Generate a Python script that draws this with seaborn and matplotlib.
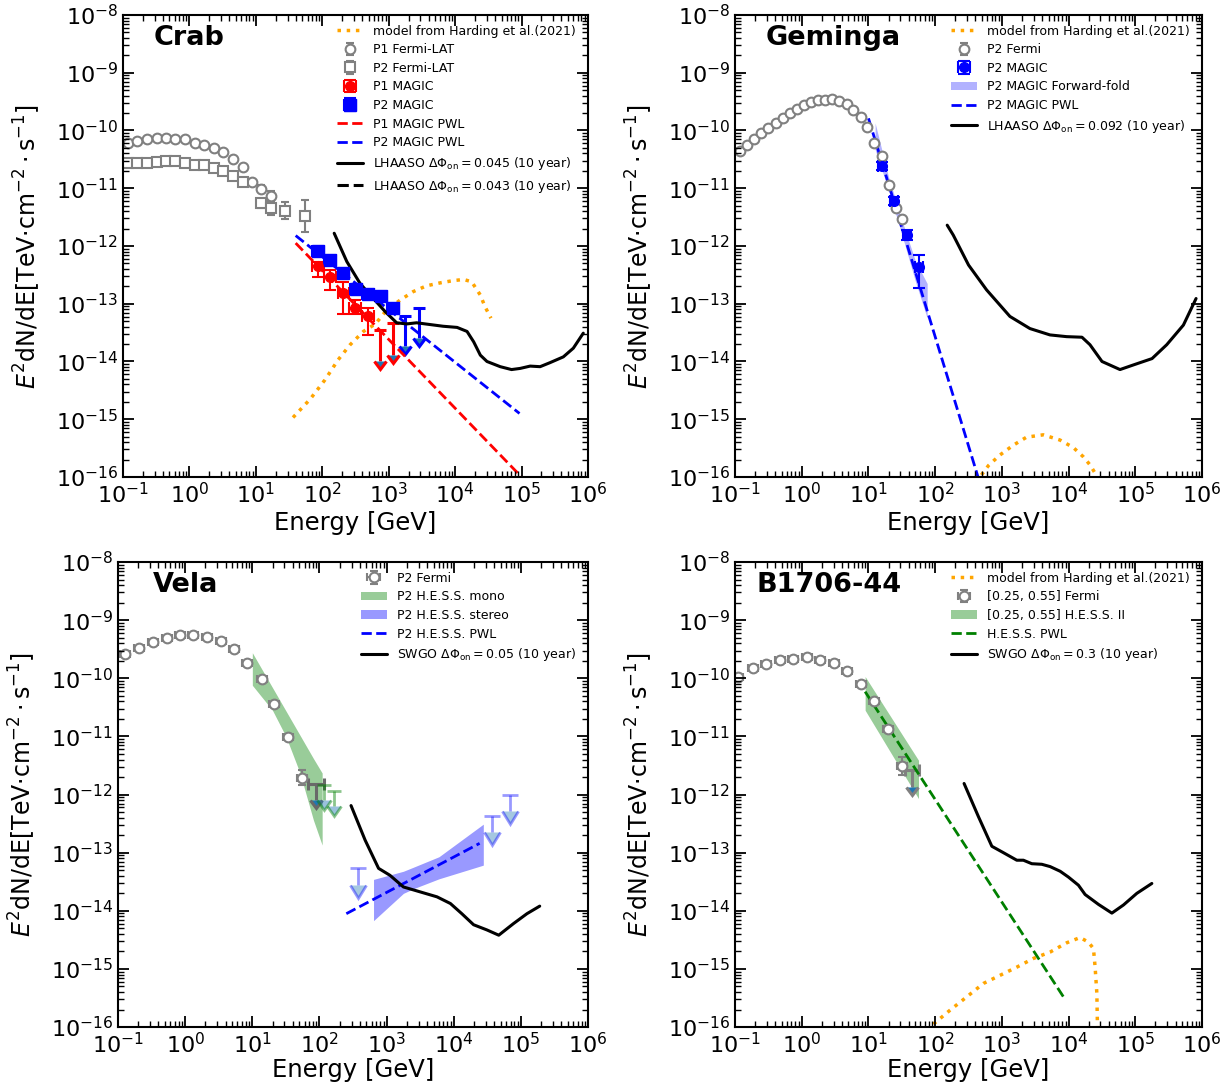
import numpy as np
import matplotlib
matplotlib.use("Agg")
import matplotlib.pyplot as plt
import seaborn as sns
from matplotlib.ticker import LogLocator
from matplotlib.lines import Line2D

# values: log10(E / GeV) and log10(E^2 dN/dE / TeV cm^-2 s^-1)

# ---- Crab ----
crab_p1_fermi_logE = [-0.92, -0.785, -0.634, -0.49, -0.35, -0.21, -0.06, 0.08, 0.22, 0.37, 0.51, 0.65, 0.80, 0.94, 1.08, 1.23]
crab_p1_fermi_logF = [-10.21, -10.18, -10.14, -10.125, -10.13, -10.14, -10.14, -10.21, -10.25, -10.30, -10.38, -10.49, -10.63, -10.90, -11.01, -11.13]
crab_p1_fermi_err = [0.01, 0.01, 0.01, 0.01, 0.01, 0.01, 0.01, 0.01, 0.01, 0.01, 0.02, 0.02, 0.03, 0.05, 0.06, 0.08]
crab_p2_fermi_logE = [-0.92, -0.785, -0.634, -0.49, -0.35, -0.21, -0.06, 0.08, 0.22, 0.37, 0.51, 0.65, 0.80, 1.08, 1.23, 1.44, 1.74]
crab_p2_fermi_logF = [-10.57, -10.57, -10.56, -10.55, -10.53, -10.53, -10.57, -10.60, -10.60, -10.65, -10.70, -10.78, -10.90, -11.26, -11.35, -11.39, -11.48]
crab_p2_fermi_err = [0.01, 0.01, 0.01, 0.01, 0.01, 0.01, 0.01, 0.01, 0.01, 0.02, 0.02, 0.03, 0.04, 0.08, 0.12, 0.15, 0.28]

crab_p1_magic_logE = [1.93, 2.12, 2.32, 2.50, 2.69]
crab_p1_magic_logF = [-12.34, -12.53, -12.82, -13.07, -13.22]
crab_p1_magic_lo = [0.20, 0.24, 0.35, 0.10, 0.32]
crab_p1_magic_hi = [0.07, 0.11, 0.20, 0.14, 0.14]
crab_p1_ul_logE = [2.87, 3.06]
crab_p1_ul_logF = [-13.45, -13.34]
crab_p2_magic_logE = [1.93, 2.12, 2.32, 2.51, 2.69, 2.88, 3.07]
crab_p2_magic_logF = [-12.09, -12.24, -12.46, -12.75, -12.84, -12.87, -13.08]
crab_p2_magic_err = [0.04, 0.04, 0.04, 0.04, 0.04, 0.05, 0.07]
crab_p2_ul_logE = [3.24, 3.46]
crab_p2_ul_logF = [-13.22, -13.08]

crab_p1_pwl_logE = [1.6, 5.0]
crab_p1_pwl_logF = [-11.95, -16.0]
crab_p2_pwl_logE = [1.6, 4.97]
crab_p2_pwl_logF = [-11.82, -14.90]

crab_lhaaso_logE = [2.18, 2.37, 2.57, 2.77, 2.95, 3.12, 3.27, 3.42, 3.62, 3.82, 4.03, 4.18, 4.28, 4.38, 4.48, 4.68, 4.85, 4.98, 5.13, 5.28, 5.43, 5.63, 5.78, 5.93]
crab_lhaaso_logF = [-11.78, -12.27, -12.65, -12.91, -13.14, -13.33, -13.35, -13.33, -13.36, -13.39, -13.41, -13.48, -13.66, -13.89, -14.00, -14.09, -14.14, -14.12, -14.08, -14.09, -14.02, -13.92, -13.77, -13.51]

crab_model_logE = [1.56, 1.82, 2.04, 2.24, 2.42, 2.62, 2.80, 2.97, 3.17, 3.37, 3.57, 3.77, 3.97, 4.13, 4.25, 4.38, 4.45, 4.54]
crab_model_logF = [-14.97, -14.65, -14.32, -13.97, -13.71, -13.48, -13.35, -13.11, -12.94, -12.79, -12.69, -12.64, -12.60, -12.58, -12.62, -12.85, -13.05, -13.25]

# ---- Geminga ----
gem_fermi_logE = [-0.925, -0.825, -0.715, -0.61, -0.50, -0.39, -0.285, -0.175, -0.075, 0.035, 0.14, 0.25, 0.35, 0.46, 0.565, 0.675, 0.775, 0.885, 0.985, 1.09, 1.20, 1.31, 1.41, 1.51]
gem_fermi_logF = [-10.35, -10.25, -10.15, -10.05, -9.96, -9.875, -9.79, -9.70, -9.63, -9.56, -9.51, -9.48, -9.47, -9.46, -9.49, -9.55, -9.645, -9.76, -9.945, -10.22, -10.45, -10.94, -11.35, -11.54]
gem_magic_logE = [1.20, 1.385, 1.575, 1.76]
gem_magic_logF = [-10.61, -11.22, -11.81, -12.36]
gem_magic_lo = [0.07, 0.07, 0.09, 0.37]
gem_magic_hi = [0.07, 0.07, 0.08, 0.20]
gem_ff_logE = [1.10, 1.30, 1.50, 1.70, 1.88]
gem_ff_lo = [-10.33, -11.03, -11.80, -12.60, -13.25]
gem_ff_hi = [-9.87, -10.80, -11.55, -12.25, -12.65]
gem_pwl_logE = [1.0, 2.7]
gem_pwl_logF = [-9.79, -16.22]
gem_lhaaso_logE = [2.18, 2.27, 2.50, 2.77, 3.12, 3.42, 3.72, 3.97, 4.20, 4.32, 4.50, 4.77, 4.97, 5.25, 5.47, 5.72, 5.91]
gem_lhaaso_logF = [-11.64, -11.81, -12.33, -12.76, -13.22, -13.43, -13.54, -13.57, -13.58, -13.71, -14.00, -14.14, -14.06, -13.95, -13.71, -13.37, -12.91]
gem_model_logE = [2.62, 2.67, 2.80, 2.97, 3.17, 3.37, 3.62, 3.87, 4.07, 4.22, 4.32, 4.40, 4.45]
gem_model_logF = [-16.1, -16.0, -15.80, -15.62, -15.45, -15.31, -15.27, -15.36, -15.49, -15.65, -15.79, -15.94, -16.1]

# ---- Vela ----
vela_fermi_logE = [-0.896, -0.683, -0.483, -0.274, -0.076, 0.122, 0.331, 0.531, 0.729, 0.927, 1.142, 1.325, 1.538, 1.738]
vela_fermi_logF = [-9.59, -9.475, -9.37, -9.30, -9.26, -9.25, -9.29, -9.355, -9.50, -9.73, -10.02, -10.45, -11.01, -11.71]
vela_fermi_err = [0.03, 0.02, 0.02, 0.02, 0.02, 0.02, 0.02, 0.02, 0.02, 0.03, 0.03, 0.04, 0.05, 0.13]
vela_fermi_ul_logE = [1.95]
vela_fermi_ul_logF = [-11.82]
vela_mono_logE = [1.0, 1.3, 1.5, 1.71, 1.91, 2.04]
vela_mono_lo = [-10.12, -10.55, -11.0, -11.63, -12.44, -12.87]
vela_mono_hi = [-9.56, -10.16, -10.56, -10.98, -11.38, -11.63]
vela_mono_ul_logE = [2.07, 2.21]
vela_mono_ul_logF = [-11.84, -11.94]
vela_stereo_logE = [2.805, 3.25, 3.40, 3.78, 4.44]
vela_stereo_lo = [-14.17, -13.70, -13.62, -13.45, -13.215]
vela_stereo_hi = [-13.46, -13.32, -13.25, -13.07, -12.51]
vela_stereo_ul_logE = [2.58, 4.57, 4.84]
vela_stereo_ul_logF = [-13.27, -12.37, -12.01]
vela_pwl_logE = [2.40, 4.385]
vela_pwl_logF = [-14.05, -12.84]
vela_swgo_logE = [2.47, 2.68, 2.88, 3.05, 3.25, 3.50, 3.75, 3.95, 4.12, 4.295, 4.495, 4.67, 4.89, 5.09, 5.28]
vela_swgo_logF = [-12.19, -12.785, -13.27, -13.39, -13.59, -13.675, -13.76, -13.875, -14.05, -14.24, -14.33, -14.42, -14.22, -14.05, -13.92]

# ---- B1706-44 ----
b17_fermi_logE = [-0.95, -0.735, -0.535, -0.325, -0.126, 0.075, 0.274, 0.484, 0.684, 0.885, 1.089, 1.298, 1.508]
b17_fermi_logF = [-9.97, -9.83, -9.76, -9.69, -9.66, -9.64, -9.69, -9.74, -9.88, -10.105, -10.39, -10.88, -11.51]
b17_fermi_err = [0.02, 0.02, 0.02, 0.02, 0.02, 0.02, 0.02, 0.02, 0.03, 0.03, 0.04, 0.05, 0.15]
b17_fermi_ul_logE = [1.65]
b17_fermi_ul_logF = [-11.57]
b17_hess_logE = [0.95, 1.75]
b17_hess_lo = [-10.55, -12.07]
b17_hess_hi = [-9.97, -11.41]
b17_pwl_logE = [0.95, 3.95]
b17_pwl_logF = [-10.23, -15.53]
b17_swgo_logE = [2.433, 2.648, 2.849, 3.022, 3.223, 3.322, 3.448, 3.598, 3.723, 3.873, 3.997, 4.147, 4.247, 4.447, 4.648, 4.822, 5.022, 5.247]
b17_swgo_logF = [-11.81, -12.38, -12.89, -13.00, -13.13, -13.13, -13.19, -13.20, -13.24, -13.32, -13.42, -13.56, -13.72, -13.89, -14.04, -13.90, -13.70, -13.53]
b17_model_logE = [1.973, 2.223, 2.474, 2.723, 2.973, 3.223, 3.472, 3.723, 3.973, 4.172, 4.297, 4.372, 4.397, 4.423, 4.435]
b17_model_logF = [-15.95, -15.71, -15.48, -15.25, -15.11, -14.97, -14.82, -14.71, -14.55, -14.46, -14.54, -14.65, -14.97, -15.42, -16.2]


def p10(a):
    return np.power(10.0, np.asarray(a, dtype=float))


def line(ax, logE, logF, color, ls='-', lw=2.2, label=None):
    sns.lineplot(x=p10(logE), y=p10(logF), ax=ax, color=color, linestyle=ls, lw=lw,
                 sort=False, estimator=None, label=label, legend=False)


def points(ax, logE, logF, lo, hi, xerr=None, **kw):
    E, F = p10(logE), p10(logF)
    yerr = [F - F * p10(-np.asarray(lo)), F * p10(hi) - F]
    xe = None
    if xerr is not None:
        xe = [E - E * 10 ** (-xerr), E * 10 ** xerr - E]
    return ax.errorbar(E, F, yerr=yerr, xerr=xe, **kw)


def ulim(ax, logE, logF, drop, color, capsize=5, lw=2, alpha=1, xerr=None):
    E, F = p10(logE), p10(logF)
    xe = None
    if xerr is not None:
        xe = [E - E * 10 ** (-xerr), E * 10 ** xerr - E]
    return ax.errorbar(E, F, yerr=F - F * 10 ** (-drop), xerr=xe, uplims=True, fmt='none',
                       ecolor=color, elinewidth=lw, capsize=capsize, capthick=lw, alpha=alpha)


fermi_kw = dict(fmt='o', color='grey', mfc='white', mec='grey', ms=7, mew=1.5,
                elinewidth=1.5, capsize=3, capthick=1.5)

sns.set_style('ticks')
plt.rcParams['font.family'] = ['DejaVu Sans']
plt.rcParams['mathtext.fontset'] = 'dejavusans'
plt.rcParams.update({
    'text.color': 'black', 'axes.labelcolor': 'black', 'axes.edgecolor': 'black',
    'xtick.color': 'black', 'ytick.color': 'black', 'axes.axisbelow': False,
    'xtick.direction': 'in', 'ytick.direction': 'in', 'xtick.top': True, 'ytick.right': True,
    'xtick.major.size': 8, 'ytick.major.size': 8, 'xtick.minor.size': 4, 'ytick.minor.size': 4,
    'xtick.major.width': 1.3, 'ytick.major.width': 1.3, 'xtick.minor.width': 1.0, 'ytick.minor.width': 1.0,
})

fig = plt.figure(figsize=(12.31, 10.92), dpi=100)
ax_crab = fig.add_axes([0.0999, 0.5632, 0.3777, 0.4231])
ax_gem = fig.add_axes([0.5971, 0.5632, 0.3794, 0.4231])
ax_vela = fig.add_axes([0.0959, 0.0595, 0.3818, 0.4258])
ax_b17 = fig.add_axes([0.5971, 0.0595, 0.3794, 0.4258])
all_axes = [ax_crab, ax_gem, ax_vela, ax_b17]

ylabel = r'$E^2$dN/dE[TeV$\cdot$cm$^{-2}\cdot$s$^{-1}$]'
harding = 'model from Harding et al.(2021)'

for ax in all_axes:
    ax.set_xscale('log')
    ax.set_yscale('log')


def finish(ax, title, tx, order, extra=None, xpad=3):
    ax.set_xlim(1e-1, 1e6)
    ax.set_ylim(1e-16, 1e-8)
    for a in [ax.xaxis, ax.yaxis]:
        a.set_major_locator(LogLocator(base=10, numticks=20))
        a.set_minor_locator(LogLocator(base=10, subs=np.arange(2, 10), numticks=20))
    ax.tick_params(which='both', direction='in', top=True, right=True, bottom=True, left=True,
                   labelsize=16, colors='black')
    ax.tick_params(which='major', length=8, width=1.3)
    ax.tick_params(which='minor', length=4, width=1)
    ax.set_axisbelow(False)
    for s in ax.spines.values():
        s.set_linewidth(1.5)
        s.set_color('black')
    ax.set_xlabel('Energy [GeV]', fontsize=17.5, labelpad=xpad)
    ax.set_ylabel(ylabel, fontsize=17, labelpad=9)
    ax.text(tx, 0.95, title, transform=ax.transAxes, fontsize=19.5, fontweight='bold', va='center')
    h, l = ax.get_legend_handles_labels()
    d = dict(zip(l, h))
    if extra:
        d.update(extra)
    ax.legend([d[k] for k in order], order, loc='upper right', bbox_to_anchor=(0.985, 0.99),
              frameon=False, fontsize=9, labelspacing=0.45, handlelength=2.1, borderaxespad=0)


lhaaso_crab_a = r'LHAASO $\Delta\Phi_{\rm on} = 0.045$ (10 year)'
lhaaso_crab_b = r'LHAASO $\Delta\Phi_{\rm on} = 0.043$ (10 year)'

# Crab
line(ax_crab, crab_model_logE, crab_model_logF, 'orange', ':', 2.5, harding)
points(ax_crab, crab_p1_fermi_logE, crab_p1_fermi_logF, crab_p1_fermi_err, crab_p1_fermi_err,
       label='P1 Fermi-LAT', **fermi_kw)
points(ax_crab, crab_p2_fermi_logE, crab_p2_fermi_logF, crab_p2_fermi_err, crab_p2_fermi_err,
       label='P2 Fermi-LAT', **{**fermi_kw, 'fmt': 's'})
points(ax_crab, crab_p1_magic_logE, crab_p1_magic_logF, crab_p1_magic_lo, crab_p1_magic_hi, xerr=0.09,
       fmt='o', color='red', ms=7, elinewidth=1.5, capsize=4, capthick=1.5, label='P1 MAGIC')
points(ax_crab, crab_p2_magic_logE, crab_p2_magic_logF, crab_p2_magic_err, crab_p2_magic_err, xerr=0.09,
       fmt='s', color='blue', ms=8, elinewidth=1.5, capsize=4, capthick=1.5, label='P2 MAGIC')
ulim(ax_crab, crab_p1_ul_logE, crab_p1_ul_logF, 0.55, 'red', capsize=4, lw=2.2)
ulim(ax_crab, crab_p2_ul_logE, crab_p2_ul_logF, 0.52, 'blue', capsize=4, lw=2.2)
line(ax_crab, crab_p1_pwl_logE, crab_p1_pwl_logF, 'red', '--', 2, 'P1 MAGIC PWL')
line(ax_crab, crab_p2_pwl_logE, crab_p2_pwl_logF, 'blue', '--', 2, 'P2 MAGIC PWL')
line(ax_crab, crab_lhaaso_logE, crab_lhaaso_logF, 'black', '-', 2.2, lhaaso_crab_a)
finish(ax_crab, 'Crab', 0.065,
       [harding, 'P1 Fermi-LAT', 'P2 Fermi-LAT', 'P1 MAGIC', 'P2 MAGIC', 'P1 MAGIC PWL', 'P2 MAGIC PWL',
        lhaaso_crab_a, lhaaso_crab_b],
       extra={lhaaso_crab_b: Line2D([], [], color='black', ls='--', lw=2.2)})

# Geminga
line(ax_gem, gem_model_logE, gem_model_logF, 'orange', ':', 2.5, harding)
zeros = np.zeros(len(gem_fermi_logE))
points(ax_gem, gem_fermi_logE, gem_fermi_logF, zeros, zeros, label='P2 Fermi', **fermi_kw)
ax_gem.fill_between(p10(gem_ff_logE), p10(gem_ff_lo), p10(gem_ff_hi), color='blue', alpha=0.3, lw=0,
                    label='P2 MAGIC Forward-fold')
points(ax_gem, gem_magic_logE, gem_magic_logF, gem_magic_lo, gem_magic_hi, xerr=0.06,
       fmt='o', color='blue', ms=7, elinewidth=1.5, capsize=4, capthick=1.5, label='P2 MAGIC')
line(ax_gem, gem_pwl_logE, gem_pwl_logF, 'blue', '--', 2, 'P2 MAGIC PWL')
lhaaso_gem = r'LHAASO $\Delta\Phi_{\rm on} = 0.092$ (10 year)'
line(ax_gem, gem_lhaaso_logE, gem_lhaaso_logF, 'black', '-', 2.2, lhaaso_gem)
finish(ax_gem, 'Geminga', 0.066,
       [harding, 'P2 Fermi', 'P2 MAGIC', 'P2 MAGIC Forward-fold', 'P2 MAGIC PWL', lhaaso_gem])

# Vela
points(ax_vela, vela_fermi_logE, vela_fermi_logF, vela_fermi_err, vela_fermi_err, xerr=0.075,
       label='P2 Fermi', **fermi_kw)
ax_vela.fill_between(p10(vela_mono_logE), p10(vela_mono_lo), p10(vela_mono_hi), color='green', alpha=0.4,
                     lw=0, label='P2 H.E.S.S. mono')
ax_vela.fill_between(p10(vela_stereo_logE), p10(vela_stereo_lo), p10(vela_stereo_hi), color='blue',
                     alpha=0.4, lw=0, label='P2 H.E.S.S. stereo')
ulim(ax_vela, vela_fermi_ul_logE, vela_fermi_ul_logF, 0.28, 'dimgrey', capsize=4, lw=2.2, xerr=0.12)
ulim(ax_vela, vela_mono_ul_logE, vela_mono_ul_logF, 0.26, 'green', capsize=5, lw=2, alpha=0.45)
ulim(ax_vela, vela_stereo_ul_logE, vela_stereo_ul_logF, 0.28, 'blue', capsize=6, lw=2, alpha=0.4)
line(ax_vela, vela_pwl_logE, vela_pwl_logF, 'blue', '--', 2, 'P2 H.E.S.S. PWL')
swgo_vela = r'SWGO $\Delta\Phi_{\rm on} = 0.05$ (10 year)'
line(ax_vela, vela_swgo_logE, vela_swgo_logF, 'black', '-', 2.2, swgo_vela)
finish(ax_vela, 'Vela', 0.074,
       ['P2 Fermi', 'P2 H.E.S.S. mono', 'P2 H.E.S.S. stereo', 'P2 H.E.S.S. PWL', swgo_vela], xpad=1)

# B1706-44
line(ax_b17, b17_model_logE, b17_model_logF, 'orange', ':', 2.5, harding)
points(ax_b17, b17_fermi_logE, b17_fermi_logF, b17_fermi_err, b17_fermi_err, xerr=0.075,
       label='[0.25, 0.55] Fermi', **fermi_kw)
ax_b17.fill_between(p10(b17_hess_logE), p10(b17_hess_lo), p10(b17_hess_hi), color='green', alpha=0.4, lw=0,
                    label='[0.25, 0.55] H.E.S.S. II')
ulim(ax_b17, b17_fermi_ul_logE, b17_fermi_ul_logF, 0.3, 'grey', capsize=4, lw=2.2, xerr=0.1)
line(ax_b17, b17_pwl_logE, b17_pwl_logF, 'green', '--', 2, 'H.E.S.S. PWL')
swgo_b17 = r'SWGO $\Delta\Phi_{\rm on} = 0.3$ (10 year)'
line(ax_b17, b17_swgo_logE, b17_swgo_logF, 'black', '-', 2.2, swgo_b17)
finish(ax_b17, 'B1706-44', 0.047,
       [harding, '[0.25, 0.55] Fermi', '[0.25, 0.55] H.E.S.S. II', 'H.E.S.S. PWL', swgo_b17], xpad=1)

fig.savefig('out.png', dpi=100)
